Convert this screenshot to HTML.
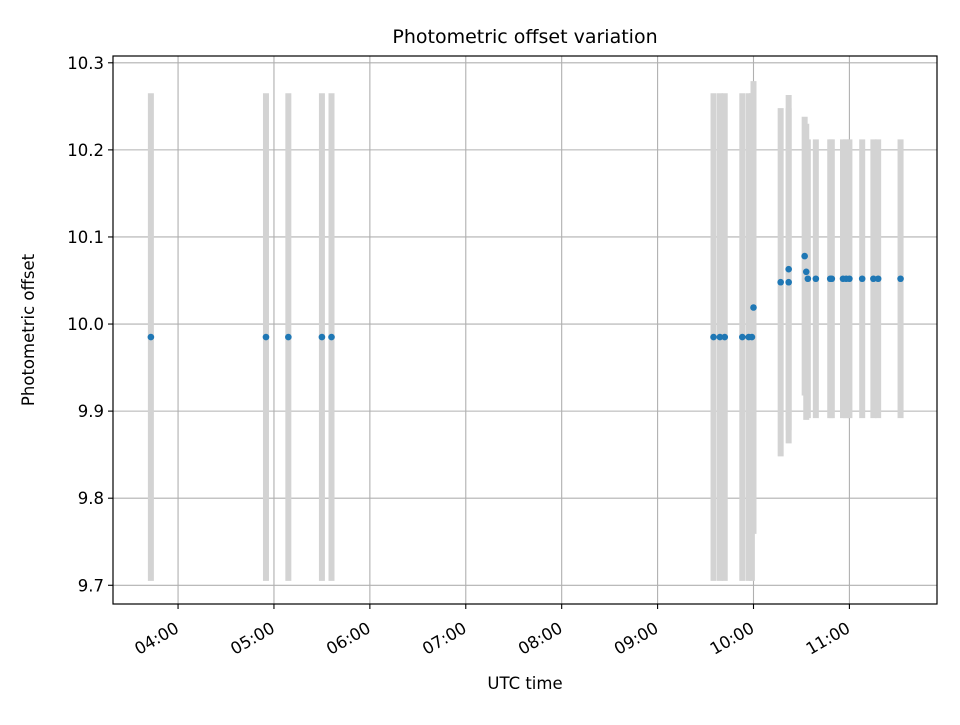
<!DOCTYPE html>
<html><head><meta charset="utf-8"><style>
body{margin:0;background:#fff;}
svg text{font-family:"DejaVu Sans","Liberation Sans",sans-serif;fill:#000;}
</style></head><body>
<svg id="chart" width="960" height="720" xmlns="http://www.w3.org/2000/svg"></svg>
<script>
// data: time (HH:MM UTC), offset, lower error, upper error
const times = ["03:43","04:55","05:09","05:30","05:36","09:35","09:39","09:42","09:53","09:57","09:59","10:00","10:17","10:22","10:22","10:32","10:33","10:34","10:39","10:48","10:49","10:56","10:58","11:00","11:08","11:15","11:18","11:32"];
const offsets = [9.985,9.985,9.985,9.985,9.985,9.985,9.985,9.985,9.985,9.985,9.985,10.019,10.048,10.063,10.048,10.078,10.060,10.052,10.052,10.052,10.052,10.052,10.052,10.052,10.052,10.052,10.052,10.052];
const errLow = [0.28,0.28,0.28,0.28,0.28,0.28,0.28,0.28,0.28,0.28,0.28,0.26,0.20,0.20,0.17,0.16,0.17,0.16,0.16,0.16,0.16,0.16,0.16,0.16,0.16,0.16,0.16,0.16];
const errHigh = [0.28,0.28,0.28,0.28,0.28,0.28,0.28,0.28,0.28,0.28,0.28,0.26,0.20,0.20,0.20,0.16,0.17,0.16,0.16,0.16,0.16,0.16,0.16,0.16,0.16,0.16,0.16,0.16];
const yTicks = [9.7,9.8,9.9,10.0,10.1,10.2,10.3];
const xTickLabels = ["04:00","05:00","06:00","07:00","08:00","09:00","10:00","11:00"];

const L=113,R=937,T=56,B=604;
const xMin=199.3,xMax=714.8;
const yMin=9.6785,yMax=10.3078;
const toMin=s=>{const p=s.split(":");return +p[0]*60+ +p[1];};
const xs=m=>L+(m-xMin)/(xMax-xMin)*(R-L);
const ys=v=>B-(v-yMin)/(yMax-yMin)*(B-T);
const svg=document.getElementById('chart');
const NS="http://www.w3.org/2000/svg";
function mk(tag,attrs,parent){const e=document.createElementNS(NS,tag);for(const k in attrs)e.setAttribute(k,attrs[k]);(parent||svg).appendChild(e);return e;}

yTicks.forEach(v=>{const y=ys(v);
 const g=mk('line',{x1:L,x2:R,y1:y,y2:y,stroke:'#b0b0b0','stroke-width':1.1});
 
 
 const tk=mk('line',{x1:L-5,x2:L,y1:y,y2:y,stroke:'#000','stroke-width':1.1});
 
 
 const t=mk('text',{x:L-9,y:y+6,'text-anchor':'end','font-size':16.5});
 t.textContent=v.toFixed(1);
 
 
});
xTickLabels.forEach(s=>{const x=xs(toMin(s));
 const g=mk('line',{x1:x,x2:x,y1:T,y2:B,stroke:'#b0b0b0','stroke-width':1.1});
 
 
 const tk=mk('line',{x1:x,x2:x,y1:B,y2:B+5,stroke:'#000','stroke-width':1.1});
 
 
 const tx=x-4,ty=B+17;
 const t=mk('text',{x:tx,y:ty,'text-anchor':'end','font-size':16.5,transform:`rotate(-30 ${tx} ${ty})`,'dominant-baseline':'hanging'});
 t.textContent=s;
 
 
});
times.forEach((s,i)=>{const x=xs(toMin(s));
 const e=mk('line',{x1:x,x2:x,y1:ys(offsets[i]-errLow[i]),y2:ys(offsets[i]+errHigh[i]),stroke:'#d3d3d3','stroke-width':6});
 
 
});
times.forEach((s,i)=>{
 const c=mk('circle',{cx:xs(toMin(s)),cy:ys(offsets[i]),r:3.3,fill:'#1f77b4'});
 
 
});
const f=mk('rect',{x:L,y:T,width:R-L,height:B-T,fill:'none',stroke:'#000','stroke-width':1.2});


const ti=mk('text',{x:(L+R)/2,y:43,'text-anchor':'middle','font-size':19});
ti.textContent='Photometric offset variation';


const xl=mk('text',{x:(L+R)/2,y:689,'text-anchor':'middle','font-size':16.5});
xl.textContent='UTC time';


const yl=mk('text',{x:34,y:330,'text-anchor':'middle','font-size':16.5,transform:'rotate(-90 34 330)'});
yl.textContent='Photometric offset';


</script>
</body></html>
